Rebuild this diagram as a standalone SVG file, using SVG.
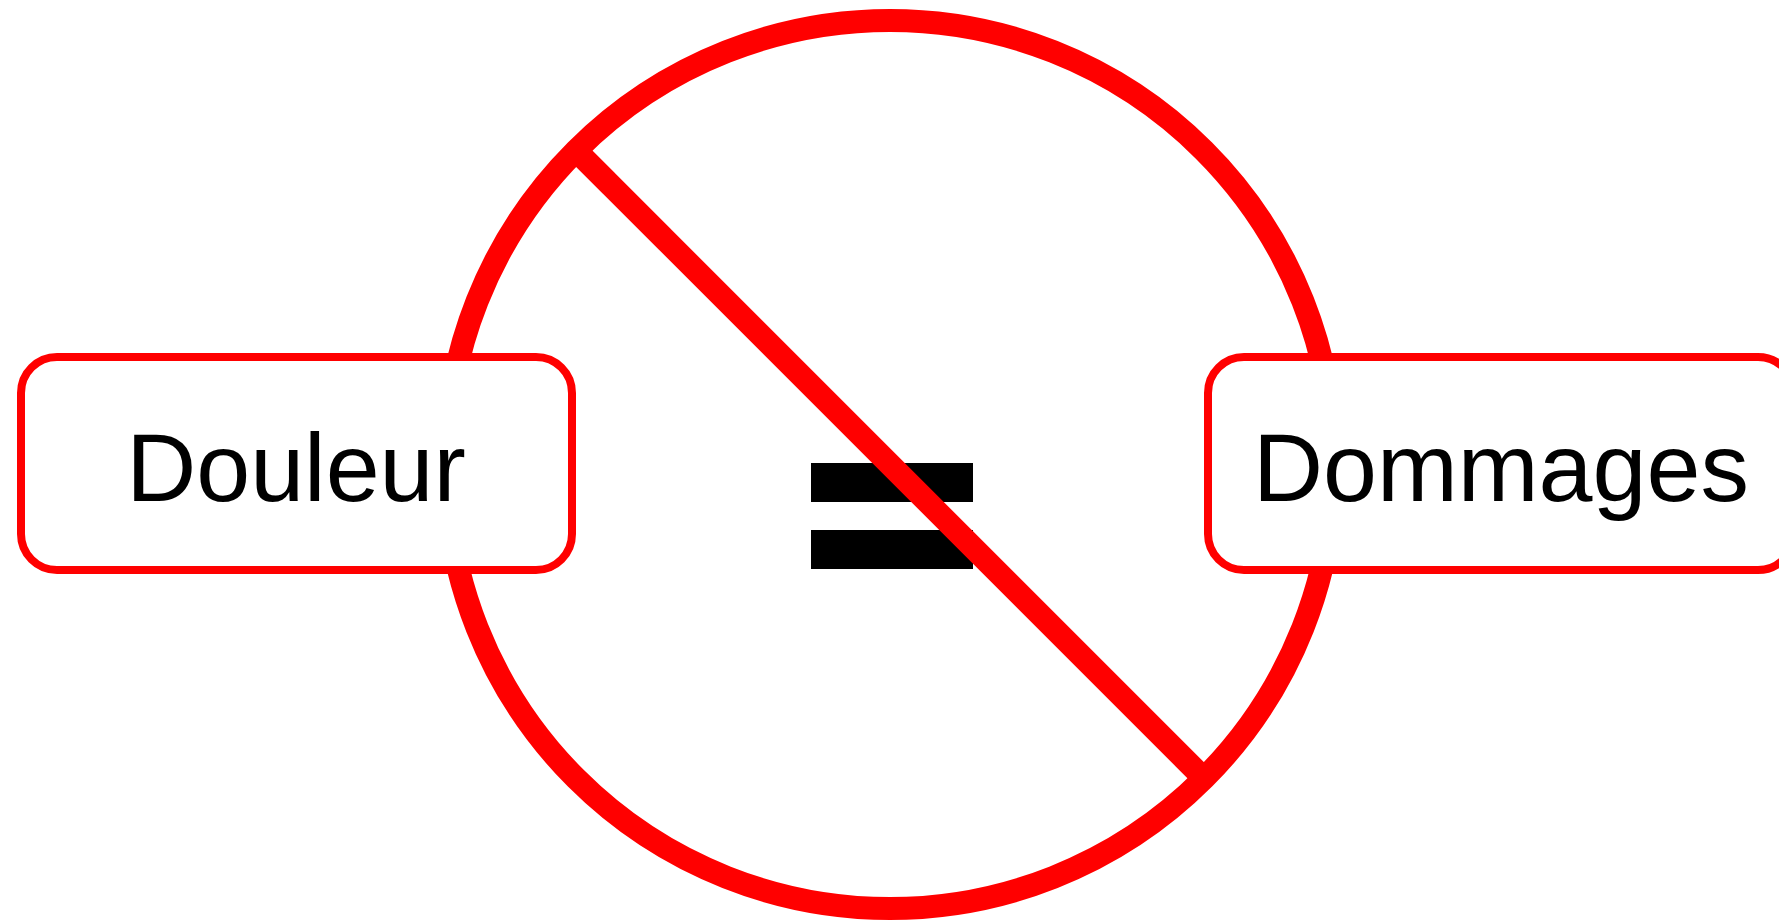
<svg xmlns="http://www.w3.org/2000/svg" width="1779" height="921" viewBox="0 0 1779 921">
  <style>
    .red { stroke: #ff0000; fill: none; }
    .box { fill: #ffffff; stroke: #ff0000; stroke-width: 8; }
    .label { font-family: "Liberation Sans", Arial, sans-serif; font-size: 97px; fill: #000000; text-anchor: middle; }
  </style>
  <rect x="0" y="0" width="1779" height="921" fill="#ffffff"/>
  <g id="prohibition-circle">
    <circle class="red" cx="890" cy="464.5" r="444" stroke-width="23"/>
  </g>
  <g id="equals">
    <rect x="811" y="463" width="162" height="39" fill="#000000"/>
    <rect x="811" y="530" width="162" height="39" fill="#000000"/>
  </g>
  <g id="connectors">
    <line class="red" x1="576" y1="150.5" x2="1204" y2="778.5" stroke-width="23"/>
  </g>
  <g id="douleur">
    <rect class="box" x="21" y="357" width="551" height="213" rx="36" ry="36"/>
    <text class="label" x="296" y="501">Douleur</text>
  </g>
  <g id="dommages">
    <rect class="box" x="1208" y="357" width="586" height="213" rx="36" ry="36"/>
    <text class="label" x="1501" y="501">Dommages</text>
  </g>
</svg>
